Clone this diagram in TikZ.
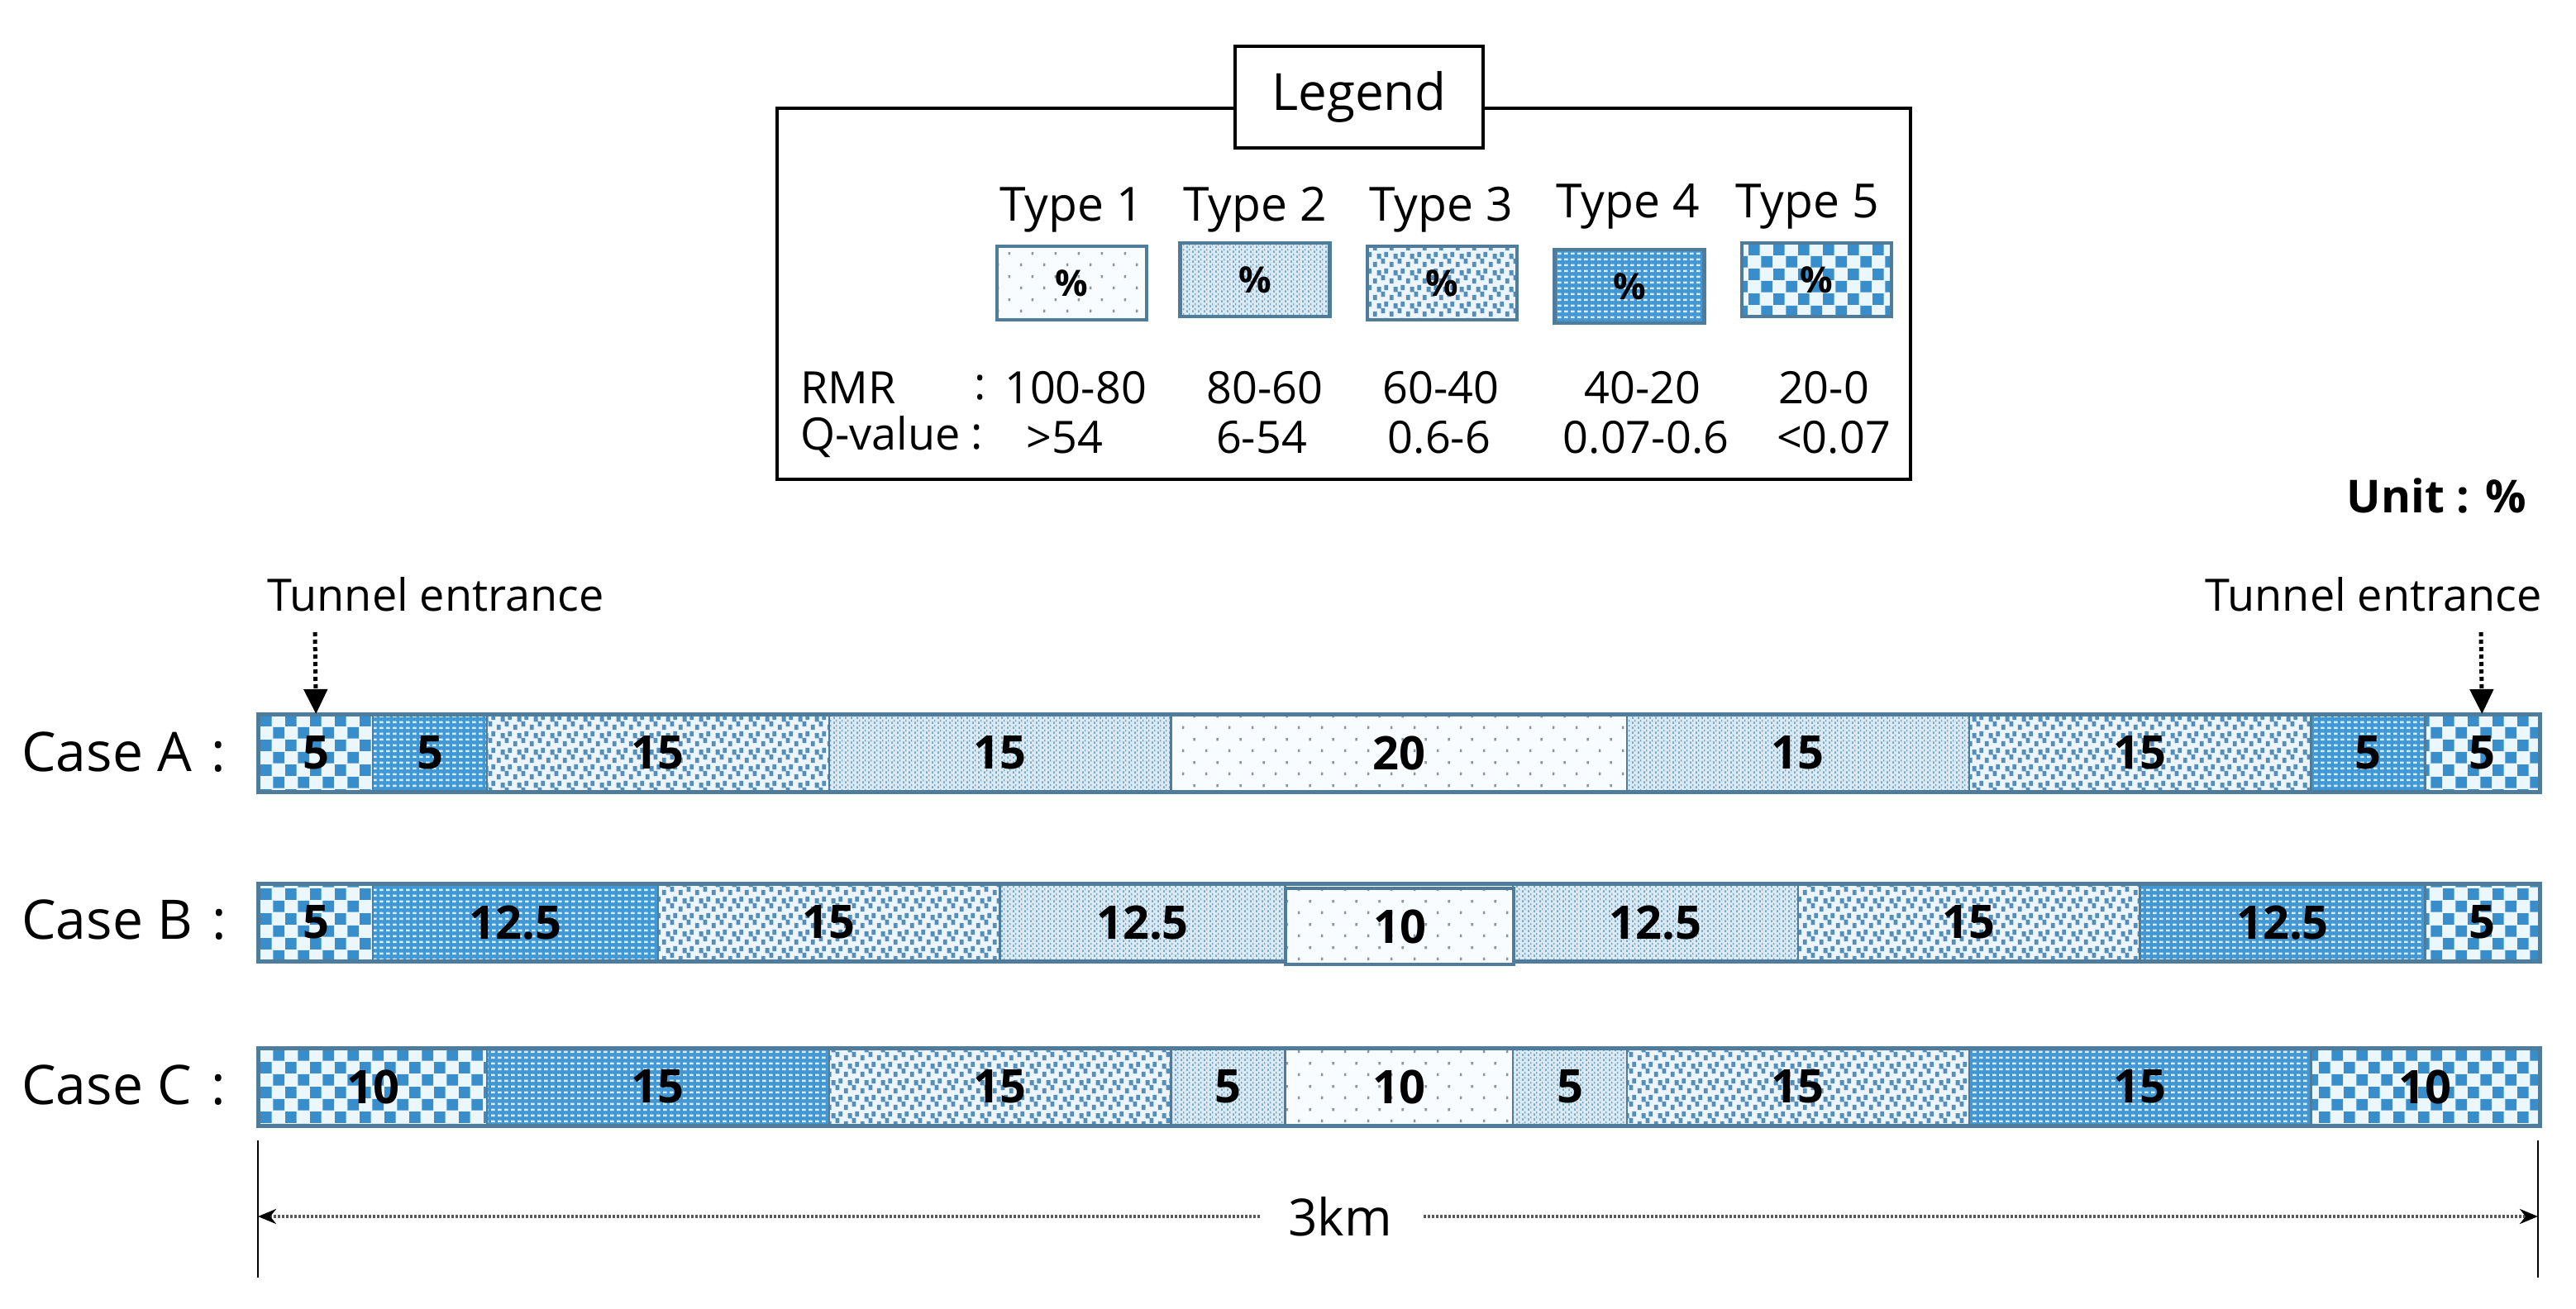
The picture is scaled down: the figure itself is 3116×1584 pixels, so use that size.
\documentclass[tikz,border=0pt]{standalone}
\usepackage{fontspec}
\setmainfont{Open Sans}
\usetikzlibrary{patterns,arrows.meta}
\definecolor{tblue}{RGB}{55,142,202}
\definecolor{tbluebg}{RGB}{66,152,212}
\definecolor{tdot}{RGB}{214,237,252}
\definecolor{chkw}{RGB}{236,247,253}
\definecolor{bord}{RGB}{78,124,154}
\definecolor{mkthree}{RGB}{86,142,186}
\definecolor{bgthree}{RGB}{236,245,251}
\definecolor{mktwo}{RGB}{125,168,196}
\definecolor{bgtwo}{RGB}{218,234,244}
\definecolor{mkone}{RGB}{140,150,160}
\definecolor{bgone}{RGB}{249,252,254}

\pgfdeclarepatternformonly{pchk}{\pgfqpoint{0pt}{0pt}}{\pgfqpoint{30pt}{30pt}}{\pgfqpoint{30pt}{30pt}}{%
 \pgfpathrectangle{\pgfqpoint{0.5pt}{0.5pt}}{\pgfqpoint{14pt}{14pt}}%
 \pgfpathrectangle{\pgfqpoint{15.5pt}{15.5pt}}{\pgfqpoint{14pt}{14pt}}%
 \pgfusepath{fill}}
\pgfdeclarepatternformonly{pwdot}{\pgfqpoint{0pt}{0pt}}{\pgfqpoint{7.5pt}{7pt}}{\pgfqpoint{7.5pt}{7pt}}{%
 \pgfpathrectangle{\pgfqpoint{1.3pt}{2pt}}{\pgfqpoint{4.6pt}{3pt}}%
 \pgfusepath{fill}}
\pgfdeclarepatternformonly{pbits}{\pgfqpoint{0pt}{0pt}}{\pgfqpoint{20pt}{20pt}}{\pgfqpoint{20pt}{20pt}}{%
 \pgfpathrectangle{\pgfqpoint{1pt}{1pt}}{\pgfqpoint{5pt}{6.5pt}}%
 \pgfpathrectangle{\pgfqpoint{11pt}{5pt}}{\pgfqpoint{5pt}{6.5pt}}%
 \pgfpathrectangle{\pgfqpoint{6pt}{11pt}}{\pgfqpoint{5pt}{6.5pt}}%
 \pgfpathrectangle{\pgfqpoint{15pt}{13.5pt}}{\pgfqpoint{5pt}{6.5pt}}%
 \pgfusepath{fill}}
\pgfdeclarepatternformonly{pvdots}{\pgfqpoint{0pt}{0pt}}{\pgfqpoint{7pt}{6pt}}{\pgfqpoint{7pt}{6pt}}{%
 \pgfpathrectangle{\pgfqpoint{0pt}{0pt}}{\pgfqpoint{2.2pt}{3pt}}%
 \pgfpathrectangle{\pgfqpoint{3.5pt}{3pt}}{\pgfqpoint{1.5pt}{3pt}}%
 \pgfusepath{fill}}
\pgfdeclarepatternformonly{pticks}{\pgfqpoint{0pt}{0pt}}{\pgfqpoint{28pt}{28pt}}{\pgfqpoint{28pt}{28pt}}{%
 \pgfpathrectangle{\pgfqpoint{2pt}{2pt}}{\pgfqpoint{2.6pt}{3.4pt}}%
 \pgfpathrectangle{\pgfqpoint{16pt}{16pt}}{\pgfqpoint{2.6pt}{3.4pt}}%
 \pgfusepath{fill}}

\tikzset{
  t1/.style={preaction={fill=bgone}, pattern=pticks, pattern color=mkone},
  t2/.style={preaction={fill=bgtwo}, pattern=pvdots, pattern color=mktwo},
  t3/.style={preaction={fill=bgthree}, pattern=pbits, pattern color=mkthree},
  t4/.style={preaction={fill=tbluebg}, pattern=pwdot, pattern color=tdot},
  t5/.style={preaction={fill=chkw}, pattern=pchk, pattern color=tblue},
  seg/.style={draw=bord, line width=2.5pt, inner sep=0pt, anchor=north west,
    minimum height=92pt, font=\bfseries\fontsize{56}{62}\selectfont},
  frame/.style={draw=bord, line width=5pt},
  sw/.style={draw=bord, line width=4.5pt, inner sep=0pt, minimum width=181pt,
    minimum height=89pt, font=\bfseries\fontsize{44}{50}\selectfont},
  casefont/.style={font=\fontsize{66}{74}\selectfont, anchor=west, inner sep=0pt},
  legtxt/.style={font=\fontsize{54}{60}\selectfont, inner sep=0pt},
  typtxt/.style={font=\fontsize{57}{62}\selectfont, inner sep=0pt},
  enttxt/.style={font=\fontsize{54}{60}\selectfont, inner sep=0pt},
  entr/.style={line width=5pt, dash pattern=on 5pt off 4pt, -{Triangle[length=30pt,width=28pt]}},
  dimline/.style={line width=4pt, draw=black!65, dash pattern=on 2.5pt off 2.5pt, -{Stealth[length=22pt,width=18pt,color=black]}},
  ext/.style={line width=2pt},
}

\newcommand\tbar[3]{%
  \foreach \a/\b/\t/\l/\o [count=\i] in {#3}{%
    \node[seg, t\t, minimum width={(\b-\a)*27.58pt}] (#1\i) at ({312+27.58*\a},{#2+\o}) {\l};
  }%
}

\begin{document}
\begin{tikzpicture}[x=1pt,y=-1pt]
\useasboundingbox (0,0) rectangle (3116,1584);

% Legend
\node[draw, line width=4pt, minimum width=1371pt, minimum height=449pt, anchor=north west, inner sep=0pt] (legbox) at (938,129) {};
\node[draw, line width=4pt, fill=white, minimum width=300pt, minimum height=123pt, font=\fontsize{62}{70}\selectfont] (legtitle) at (1644,117.5) {Legend};

\node[typtxt] (ty1) at (1296,254) {Type 1};
\node[typtxt] (ty2) at (1518,254) {Type 2};
\node[typtxt] (ty3) at (1743,254) {Type 3};
\node[typtxt] (ty4) at (1969,250) {Type 4};
\node[typtxt] (ty5) at (2186,250) {Type 5};

\node[sw, t1] (sw1) at (1296.5,342.5) {\%};
\node[sw, t2] (sw2) at (1518,338.5) {\%};
\node[sw, t3] (sw3) at (1744.5,342.5) {\%};
\node[sw, t4] (sw4) at (1971,346.5) {\%};
\node[sw, t5] (sw5) at (2197.5,338.5) {\%};

\node[legtxt, anchor=west] (rmr) at (968,469) {RMR};
\node[legtxt] (rmrc) at (1186,469) {:};
\node[legtxt] (r1) at (1301,469) {100-80};
\node[legtxt] (r2) at (1530,469) {80-60};
\node[legtxt] (r3) at (1743,469) {60-40};
\node[legtxt] (r4) at (1987,469) {40-20};
\node[legtxt] (r5) at (2206,469) {20-0};

\node[legtxt, anchor=west] (qv) at (968,529) {Q-value};
\node[legtxt] (qvc) at (1182,529) {:};
\node[legtxt] (q1) at (1288,529) {>54};
\node[legtxt] (q2) at (1526,529) {6-54};
\node[legtxt] (q3) at (1741,529) {0.6-6};
\node[legtxt] (q4) at (1991,529) {0.07-0.6};
\node[legtxt] (q5) at (2218,529) {<0.07};

\node[anchor=east, inner sep=0pt, font=\bfseries\fontsize{55}{62}\selectfont] (unit) at (3056,600) {Unit : \%};

% Tunnel entrance labels
\node[enttxt] (entl) at (527,719) {Tunnel entrance};
\node[enttxt] (entr) at (2871,719) {Tunnel entrance};

% Case labels
\node[casefont] (caseA) at (26,910) {Case A\hspace{24pt}:};
\node[casefont] (caseB) at (26,1113) {Case B\hspace{24pt}:};
\node[casefont] (caseC) at (26,1313) {Case C\hspace{24pt}:};

% Bars
\tbar{A}{864}{0/5/5/5/0, 5/10/4/5/0, 10/25/3/15/0, 25/40/2/15/0, 40/60/1/20/0, 60/75/2/15/0, 75/90/3/15/0, 90/95/4/5/0, 95/100/5/5/0}
\draw[frame] (A1.north west) rectangle (A9.south east);

\tbar{B}{1069}{0/5/5/5/0, 5/17.5/4/12.5/0, 17.5/32.5/3/15/0, 32.5/45/2/12.5/0, 55/67.5/2/12.5/0, 67.5/82.5/3/15/0, 82.5/95/4/12.5/0, 95/100/5/5/0}
\draw[frame] (B1.north west) rectangle (B8.south east);
\node[seg, t1, minimum width={10*27.58pt}, line width=4pt] (Bmid) at ({312+27.58*45},1073) {10};

\tbar{C}{1268}{0/10/5/10/0, 10/25/4/15/0, 25/40/3/15/0, 40/45/2/5/0, 45/55/1/10/0, 55/60/2/5/0, 60/75/3/15/0, 75/90/4/15/0, 90/100/5/10/0}
\draw[frame] (C1.north west) rectangle (C9.south east);

% Entrance arrows
\coordinate (el) at (381,765);
\coordinate (er) at (3001,765);
\draw[entr] (el) -- (A1.north);
\draw[entr] (er) -- (A9.north);

% Dimension
\node[inner sep=0pt, font=\fontsize{62}{68}\selectfont] (km) at (1621,1472) {3km};
\coordinate (dl) at (312,1472);
\coordinate (dr) at (3070,1472);
\draw[dimline] ([xshift=-34pt]km.west) -- (dl);
\draw[dimline] ([xshift=38pt]km.east) -- (dr);
\coordinate (dlt) at (312,1380);
\coordinate (dlb) at (312,1546);
\coordinate (drt) at (3070,1380);
\coordinate (drb) at (3070,1546);
\draw[ext] (dlt) -- (dlb);
\draw[ext] (drt) -- (drb);
\end{tikzpicture}
\end{document}
